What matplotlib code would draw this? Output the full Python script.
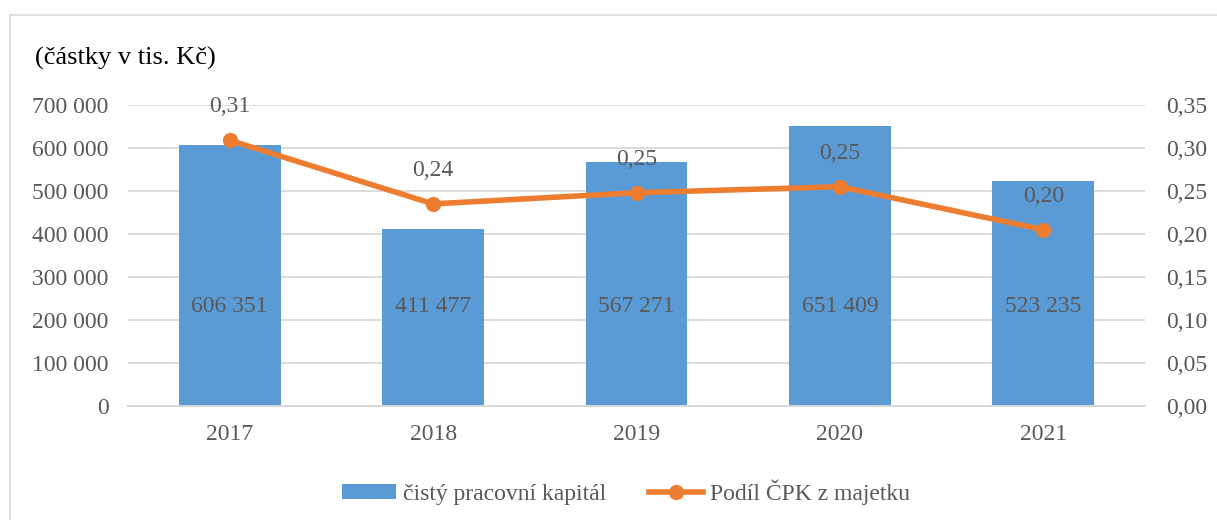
import matplotlib
matplotlib.use("Agg")
import matplotlib.pyplot as plt
from matplotlib.patches import Rectangle
from matplotlib.ticker import FuncFormatter

# data
years = ["2017", "2018", "2019", "2020", "2021"]
cpk = [606351, 411477, 567271, 651409, 523235]           # thousands CZK
share = [0.309, 0.235, 0.248, 0.255, 0.205]               # CPK / assets
share_labels = ["0,31", "0,24", "0,25", "0,25", "0,20"]

BLUE, ORANGE = "#5B9BD5", "#ED7D31"
TXT, GRID = "#595959", "#D9D9D9"
FS = 17
plt.rcParams["font.family"] = ["Liberation Serif", "DejaVu Serif"]

def space_thousands(v, _):
    return f"{int(round(v)):,}".replace(",", " ")

fig = plt.figure(figsize=(12.17, 5.2), dpi=100)
fig.patches.append(Rectangle((10 / 1217, -0.1), 1.2, 0.1 + (520 - 15) / 520,
                             transform=fig.transFigure, fill=False,
                             edgecolor="#D9D9D9", lw=1.2))
ax = fig.add_axes([128 / 1217, 1 - 406 / 520, (1145 - 128) / 1217, (406 - 105) / 520])
ax2 = ax.twinx()

x = range(len(years))
ax.bar(x, cpk, width=0.5, color=BLUE, zorder=2, label="čistý pracovní kapitál")
for i, v in enumerate(cpk):
    ax.text(i, 232000, space_thousands(v, None), ha="center", va="center",
            fontsize=FS, color=TXT, zorder=3)

ax.set_xlim(-0.5, len(years) - 0.5)
ax.set_ylim(0, 700000)
ax.set_yticks(range(0, 700001, 100000))
ax.yaxis.set_major_formatter(FuncFormatter(space_thousands))
ax.set_xticks(list(x))
ax.set_xticklabels(years)
ax.grid(axis="y", color=GRID, lw=1.3, zorder=0)
ax.set_axisbelow(True)

ax2.plot(x, share, color=ORANGE, lw=4, marker="o", ms=10, zorder=4,
         label="Podíl ČPK z majetku")
for i, (v, s) in enumerate(zip(share, share_labels)):
    ax2.annotate(s, (i, v), xytext=(0, 24), textcoords="offset points",
                 ha="center", va="center", fontsize=FS, color=TXT)
ax2.set_ylim(0, 0.35)
ax2.set_yticks([i * 0.05 for i in range(8)])
ax2.yaxis.set_major_formatter(FuncFormatter(lambda v, _: f"{v:.2f}".replace(".", ",")))

for a in (ax, ax2):
    for side in ("top", "left", "right"):
        a.spines[side].set_visible(False)
    a.spines["bottom"].set_color(GRID)
    a.spines["bottom"].set_linewidth(1.3)
    a.tick_params(length=0, labelsize=FS, labelcolor=TXT)
ax.tick_params(axis="y", pad=14)
ax2.tick_params(axis="y", pad=15)
ax.tick_params(axis="x", pad=13)

fig.text(35 / 1217, 1 - 58 / 520, "(částky v tis. Kč)", fontsize=19,
         color="black", va="center", ha="left")

h1, l1 = ax.get_legend_handles_labels()
h2, l2 = ax2.get_legend_handles_labels()
fig.legend(h1 + h2, l1 + l2, loc="center", bbox_to_anchor=(626 / 1217, 1 - 492 / 520),
           ncol=2, frameon=False, fontsize=FS, labelcolor=TXT,
           handlelength=2.3, handleheight=0.6, handletextpad=0.3, columnspacing=1.8)

fig.savefig("out.png", dpi=100)
